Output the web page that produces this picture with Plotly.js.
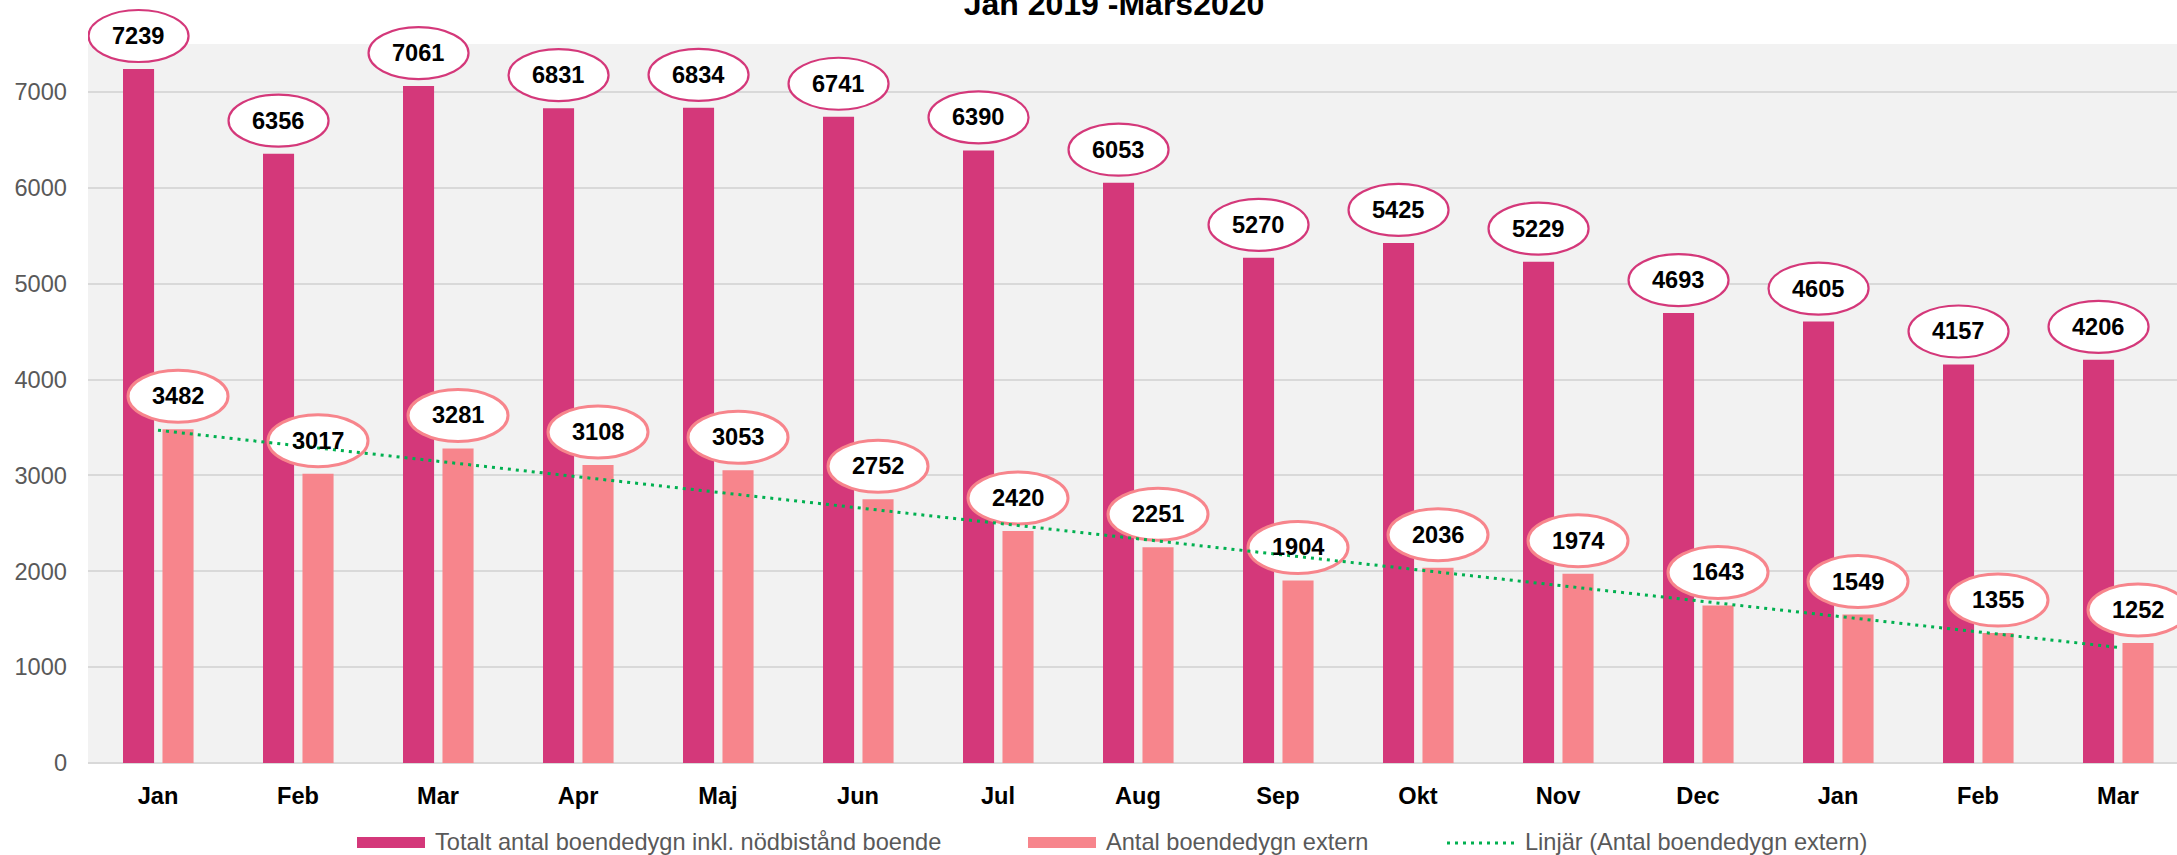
<!DOCTYPE html>
<html>
<head>
<meta charset="utf-8">
<script src="https://cdn.plot.ly/plotly-3.0.1.min.js"></script>
<style>
html,body{margin:0;padding:0;background:#fff;overflow:hidden;}
#chart{width:2177px;height:855px;}
</style>
</head>
<body>
<div id="chart"></div>
<script>
// ---- data ----
const months = ["Jan","Feb","Mar","Apr","Maj","Jun","Jul","Aug","Sep","Okt","Nov","Dec","Jan","Feb","Mar"];
const totalNights = [7239,6356,7061,6831,6834,6741,6390,6053,5270,5425,5229,4693,4605,4157,4206];
const externalNights = [3482,3017,3281,3108,3053,2752,2420,2251,1904,2036,1974,1643,1549,1355,1252];
const trendIndex = [0, 14];
const trendValues = [3471, 1206];
const seriesNames = ["Totalt antal boendedygn inkl. nödbistånd boende","Antal boendedygn extern","Linjär (Antal boendedygn extern)"];
const chartTitle = "Jan 2019 -Mars2020";

// ---- styling ----
const W = 2177, H = 855;
const ML = 88, MB = 92, MT = 0, MR = 0;
const plotW = W - ML - MR, plotH = H - MT - MB;
const catPx = 140;
const xMax = -0.5 + plotW / catPx;
const yTopVal = 7500, yTopPx = 44;
const yMax = yTopVal * plotH / (plotH - yTopPx);
const FONT = "Liberation Sans, Arial, sans-serif";
const FS = 23.6;
const cTotal = "#D4387A", cExt = "#F7858C", cTrend = "#00B050";
const barW = 0.222, offTotal = -0.25, offExt = 0.032;
const ctrTotal = offTotal + barW/2, ctrExt = offExt + barW/2;
const xIdx = months.map((m,i)=>i);

const px2x = p => (p - ML) / plotW;
const py2y = p => (H - MB - p) / plotH;

const traces = [
  {type:"bar", x:xIdx, y:totalNights, name:seriesNames[0], width:barW, offset:offTotal,
   marker:{color:cTotal}, showlegend:false, hoverinfo:"y"},
  {type:"bar", x:xIdx, y:externalNights, name:seriesNames[1], width:barW, offset:offExt,
   marker:{color:cExt}, showlegend:false, hoverinfo:"y"}
];

const shapes = [];
const annotations = [];
// plot background (only up to 7500)
shapes.push({type:"rect", layer:"below", xref:"paper", yref:"y", x0:0, x1:1, y0:0, y1:yTopVal,
  fillcolor:"#F2F2F2", line:{width:0}});

function addLabel(i, v, ctr, col, lw){
  shapes.push({type:"circle", xref:"x", yref:"y", xsizemode:"pixel", ysizemode:"pixel",
    xanchor:i+ctr, yanchor:v, x0:-50, x1:50, y0:7, y1:59,
    fillcolor:"#ffffff", line:{color:col, width:lw}, layer:"above"});
  annotations.push({xref:"x", yref:"y", x:i+ctr, y:v, yshift:33, showarrow:false,
    xanchor:"center", yanchor:"middle", text:String(v),
    font:{family:FONT, size:FS, color:"#000", weight:"bold"}});
}
totalNights.forEach((v,i)=>addLabel(i, v, ctrTotal, cTotal, 2.2));
externalNights.forEach((v,i)=>addLabel(i, v, ctrExt, cExt, 3));

// linear trend line (drawn over labels, as in the reference)
shapes.push({type:"line", xref:"x", yref:"y", x0:trendIndex[0], y0:trendValues[0], x1:trendIndex[1], y1:trendValues[1],
  line:{color:cTrend, width:3, dash:"3px,5px"}, layer:"above"});

// custom legend
const legY = 842.5;
shapes.push({type:"rect", xref:"paper", yref:"paper", x0:px2x(357), x1:px2x(425), y0:py2y(837), y1:py2y(848),
  fillcolor:cTotal, line:{width:0}});
shapes.push({type:"rect", xref:"paper", yref:"paper", x0:px2x(1028), x1:px2x(1096), y0:py2y(837), y1:py2y(848),
  fillcolor:cExt, line:{width:0}});
shapes.push({type:"line", xref:"paper", yref:"paper", x0:px2x(1447), x1:px2x(1519), y0:py2y(843), y1:py2y(843),
  line:{color:cTrend, width:3, dash:"3px,5px"}});
[[433,seriesNames[0]],[1104,seriesNames[1]],[1523,seriesNames[2]]].forEach(([px,t])=>{
  annotations.push({xref:"paper", yref:"paper", x:px2x(px), y:py2y(legY), xanchor:"left", yanchor:"middle",
    showarrow:false, text:t, font:{family:FONT, size:FS, color:"#595959"}});
});

const layout = {
  width:W, height:H,
  margin:{l:ML, r:MR, t:MT, b:MB, pad:0},
  paper_bgcolor:"#ffffff", plot_bgcolor:"#ffffff",
  font:{family:FONT, size:FS, color:"#595959"},
  title:{text:chartTitle, font:{family:FONT, size:32, color:"#000", weight:"bold"},
    xref:"container", x:1114/W, xanchor:"center", yref:"container", y:1-3.5/H, yanchor:"middle"},
  barmode:"overlay",
  showlegend:false,
  xaxis:{range:[-0.5, xMax], tickmode:"array", tickvals:xIdx, ticktext:months,
    showgrid:false, zeroline:false, showline:false, ticks:"", fixedrange:true,
    tickfont:{family:FONT, size:FS, color:"#000", weight:"bold"}, ticklabelstandoff:16},
  yaxis:{range:[0, yMax], tickmode:"linear", tick0:0, dtick:1000, showgrid:true,
    gridcolor:"#D9D9D9", gridwidth:2, zeroline:true, zerolinecolor:"#D9D9D9", zerolinewidth:2,
    showline:false, ticks:"", fixedrange:true,
    tickfont:{family:FONT, size:FS, color:"#595959"}, ticklabelstandoff:20},
  shapes:shapes,
  annotations:annotations
};

Plotly.newPlot("chart", traces, layout, {displayModeBar:false, staticPlot:true});
</script>
</body>
</html>
